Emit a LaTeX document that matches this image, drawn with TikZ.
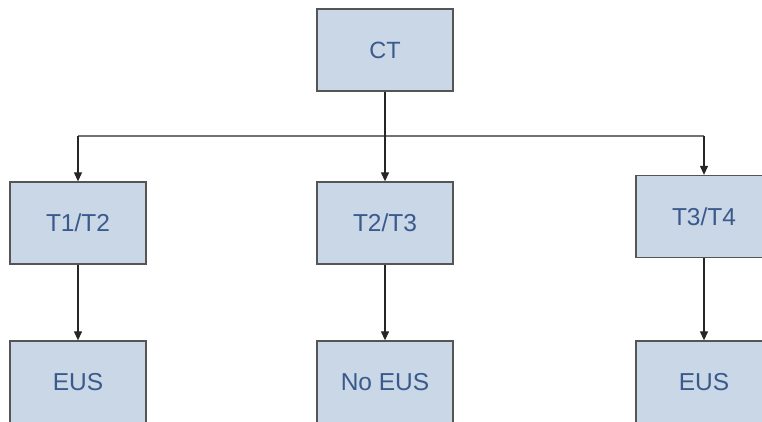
\documentclass[tikz,border=0pt]{standalone}
\usepackage{fontspec}
\setmainfont{Liberation Sans}
\usetikzlibrary{arrows.meta}
\definecolor{boxfill}{HTML}{C9D7E7}
\definecolor{boxline}{HTML}{555555}
\definecolor{txt}{HTML}{3A5A8C}
\begin{document}
\begin{tikzpicture}[x=1pt,y=1pt,
  box/.style={draw=boxline, fill=boxfill, line width=1.3pt, minimum width=136pt, minimum height=82pt, inner sep=0pt, text=txt, font=\fontsize{24.5}{28}\selectfont},
  conn/.style={draw=black!85, line width=1.2pt, -{Triangle[length=9pt,width=8pt]}}]
\useasboundingbox (0,0) rectangle (762,421);
\node[box, font=\fontsize{23.5}{26}\selectfont] (ct) at (385,371) {CT};
\node[box] (t12) at (78,198) {T1/T2};
\node[box] (t23) at (385,198) {T2/T3};
\node[box] (t34) at (704,204.5) {T3/T4};
\node[box] (e1) at (78,39) {EUS};
\node[box] (e2) at (385,39) {No EUS};
\node[box] (e3) at (704,39) {EUS};
\coordinate (j) at (385,285);
\coordinate (jl) at (78,285);
\coordinate (jr) at (704,285);
\draw[draw=black!55, line width=1.2pt] (jl) -- (jr);
\draw[conn] (ct.south) -- (t23.north);
\draw[conn] (jl) -- (t12.north);
\draw[conn] (jr) -- (t34.north);
\draw[conn] (t12.south) -- (e1.north);
\draw[conn] (t23.south) -- (e2.north);
\draw[conn] (t34.south) -- (e3.north);
\end{tikzpicture}
\end{document}
